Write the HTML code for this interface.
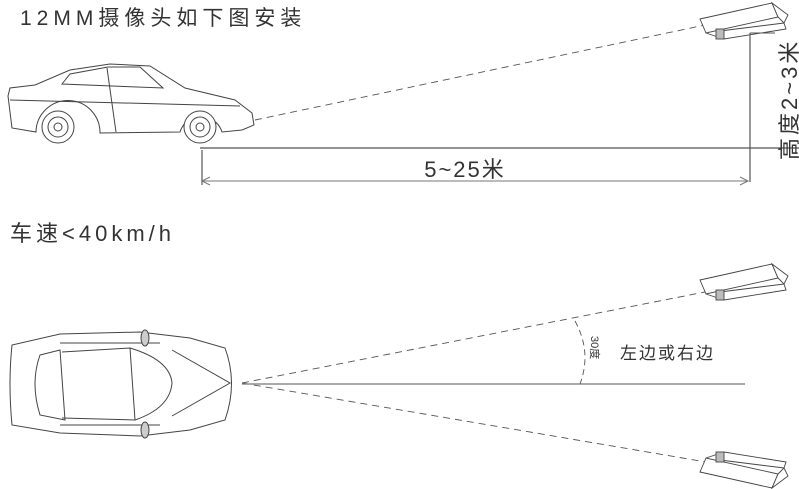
<!DOCTYPE html>
<html><head><meta charset="utf-8"><style>
html,body{margin:0;padding:0;background:#fff;width:799px;height:489px;overflow:hidden}
svg{display:block}
text{font-family:"Liberation Sans","Noto Sans CJK SC",sans-serif;fill:#333}
</style></head><body>
<svg width="799" height="489" viewBox="0 0 799 489" xmlns="http://www.w3.org/2000/svg">
<defs>
<g id="cam" fill="#fff" stroke="#444" stroke-width="0.9">
  <polygon points="0,16 72,0 78,14 6,30"/>
  <polygon points="72,0 88,12 84,20 78,14"/>
  <polygon points="20,28 84,20 86,26 24,36"/>
  <line x1="6" y1="30" x2="24" y2="36"/>
  <rect x="16" y="26" width="8" height="10" fill="#bbb" stroke="#444"/>
</g>
</defs>
<text x="20" y="25" font-size="21" letter-spacing="5">12MM摄像头如下图安装</text>

<!-- side car -->
<g fill="none" stroke="#444" stroke-width="1">
  <path d="M8,96 L10,88 L35,85 L70,70 L110,64 L150,66 L185,88 L235,100 L252,113 L254,125 L242,130 L222,132 A22,22 0 0 0 180,132 L100,133 A22,22 0 0 0 36,132 L12,128 Z" fill="#fff"/>
  <path d="M62,84 L70,74 L108,67 L140,67 L163,88 Z"/>
  <line x1="107" y1="68" x2="116" y2="132"/>
  <line x1="10" y1="100" x2="240" y2="106"/>
  <circle cx="58" cy="127" r="16" fill="#fff"/><circle cx="58" cy="127" r="10"/><circle cx="58" cy="127" r="4"/>
  <circle cx="200" cy="127" r="16" fill="#fff"/><circle cx="200" cy="127" r="10"/><circle cx="200" cy="127" r="4"/>
</g>

<line x1="255" y1="120" x2="705" y2="25" stroke="#555" stroke-width="0.9" stroke-dasharray="7,5"/>
<use href="#cam" x="700" y="3"/>
<line x1="750" y1="33" x2="750" y2="182" stroke="#555" stroke-width="1.2"/>
<line x1="750" y1="33" x2="775" y2="33" stroke="#555" stroke-width="1"/>
<line x1="200" y1="148" x2="799" y2="148" stroke="#555" stroke-width="1.2"/>
<line x1="202" y1="150" x2="202" y2="185" stroke="#555" stroke-width="1.2"/>
<line x1="202" y1="181" x2="748" y2="181" stroke="#777" stroke-width="1"/>
<polyline points="210,177 202,181 210,185" fill="none" stroke="#777"/>
<polyline points="740,177 748,181 740,185" fill="none" stroke="#777"/>
<text x="465" y="177" font-size="22" text-anchor="middle" letter-spacing="2">5~25米</text>
<text transform="translate(797,160) rotate(-90)" font-size="22" letter-spacing="3">高度2~3米</text>

<text x="10" y="241" font-size="22" letter-spacing="4">车速&lt;40km/h</text>

<!-- top car -->
<g fill="none" stroke="#444" stroke-width="1">
  <path d="M12,345 Q8,383 12,425 L60,433 L140,436 L190,430 L225,420 Q238,383 225,348 L190,338 L140,332 L60,334 Z" fill="#fff"/>
  <path d="M40,355 L60,350 L65,420 L40,415 Q30,383 40,355 Z"/>
  <path d="M62,352 L130,348 L135,420 L62,418"/>
  <path d="M130,348 Q170,360 172,383 Q170,408 135,420"/>
  <line x1="60" y1="343" x2="160" y2="343"/><line x1="60" y1="425" x2="160" y2="425"/>
  <path d="M172,350 L230,383 L172,416"/>
  <ellipse cx="145" cy="338" rx="4" ry="8" fill="#ccc"/><ellipse cx="145" cy="430" rx="4" ry="8" fill="#ccc"/>
</g>

<line x1="242" y1="383" x2="705" y2="292" stroke="#555" stroke-width="0.9" stroke-dasharray="7,5"/>
<line x1="242" y1="383" x2="712" y2="463" stroke="#555" stroke-width="0.9" stroke-dasharray="7,5"/>
<line x1="242" y1="384" x2="745" y2="384" stroke="#777" stroke-width="1.2"/>
<path d="M575,321 Q592,352 580,384" fill="none" stroke="#555" stroke-width="0.9" stroke-dasharray="6,4"/>
<text transform="translate(591,336) rotate(90)" font-size="11">30度</text>
<text x="620" y="359" font-size="17" letter-spacing="2">左边或右边</text>
<use href="#cam" x="700" y="264"/>
<g transform="translate(700,488) scale(1,-1)"><use href="#cam"/></g>
</svg>
</body></html>
